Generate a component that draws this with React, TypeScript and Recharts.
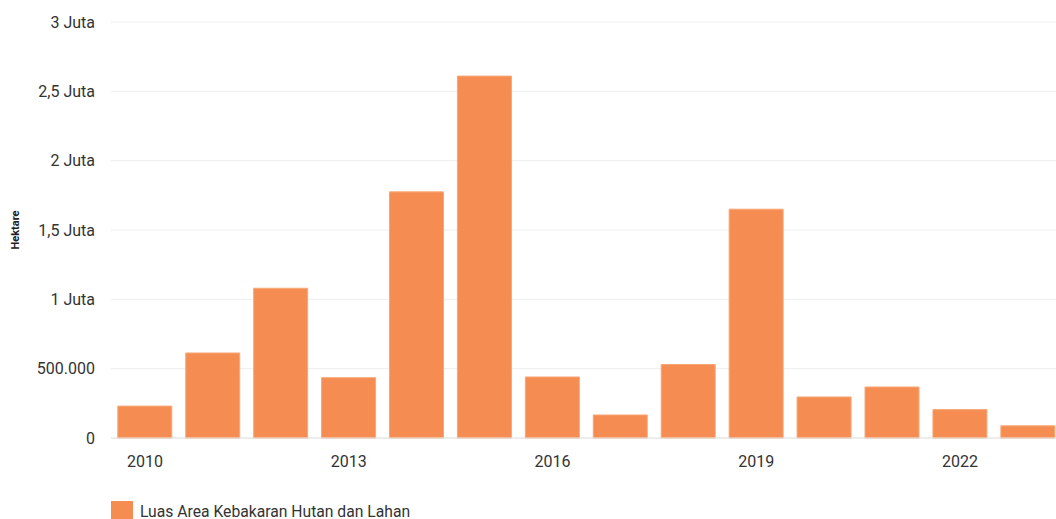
import React from 'react';
import { BarChart, Bar, XAxis, YAxis, CartesianGrid, Legend } from 'recharts';

const years = ['2010','2011','2012','2013','2014','2015','2016','2017','2018','2019','2020','2021','2022','2023'];
const areaHa = [230000, 613000, 1080000, 435000, 1775000, 2610000, 440000, 166000, 530000, 1650000, 296000, 368000, 205000, 88000];
const yTicks = [0, 500000, 1000000, 1500000, 2000000, 2500000, 3000000];
const seriesName = 'Luas Area Kebakaran Hutan dan Lahan';

const data = years.map((y, i) => ({ year: y, value: areaHa[i] }));

const fmtY = (v: number) => {
  if (v === 0) return '0';
  if (v < 1000000) return v.toLocaleString('de-DE');
  const j = v / 1000000;
  return String(j).replace('.', ',') + ' Juta';
};

const FONT = 'Roboto, "Noto Sans", sans-serif';
const COLOR = '#F58D52';

const LegendContent = () => (
  <div style={{ display: 'flex', alignItems: 'center', fontFamily: FONT, fontSize: 15.7, color: '#333', height: 22 }}>
    <div style={{ width: 22, height: 20, background: COLOR, marginRight: 7 }} />
    <span>{seriesName}</span>
  </div>
);

export default function App() {
  return (
    <div style={{ position: 'fixed', left: 0, top: 0, width: 1056, height: 519, overflow: 'hidden', background: '#fff' }}>
      <BarChart width={1062} height={540} data={data} margin={{ top: 22, right: 0, bottom: 0, left: 0 }} barCategoryGap="10%">
        <CartesianGrid horizontal vertical={false} stroke="#eeeeee" />
        <XAxis
          dataKey="year"
          interval={2}
          tickLine={false}
          tickSize={0}
          tickMargin={18}
          height={80}
          axisLine={{ stroke: '#e2e2e2' }}
          tick={{ fill: '#333', fontSize: 16, fontFamily: FONT }}
        />
        <YAxis
          width={111}
          domain={[0, 3000000]}
          ticks={yTicks}
          tickFormatter={fmtY}
          axisLine={false}
          tickLine={false}
          tickSize={0}
          tickMargin={16}
          tick={{ fill: '#333', fontSize: 16, fontFamily: FONT }}
          label={{ value: 'Hektare', angle: -90, position: 'insideLeft', offset: 15, style: { textAnchor: 'middle', fontSize: 11, fontWeight: 700, fill: '#222', fontFamily: FONT } }}
        />
        <Legend
          verticalAlign="bottom"
          align="left"
          content={<LegendContent />}
          wrapperStyle={{ position: 'absolute', top: 500, left: 111, bottom: 'auto', width: 'auto', height: 22 }}
        />
        <Bar dataKey="value" name={seriesName} fill={COLOR} stroke="#F7A878" strokeWidth={1} isAnimationActive={false} />
      </BarChart>
    </div>
  );
}
